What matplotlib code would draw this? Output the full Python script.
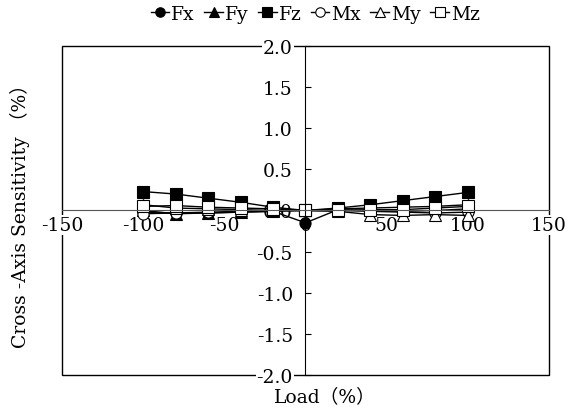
import matplotlib
matplotlib.use("Agg")
import matplotlib.pyplot as plt

plt.rcParams['font.family'] = ['DejaVu Serif', 'Noto Sans CJK JP']

load = [-100, -80, -60, -40, -20, 0, 20, 40, 60, 80, 100]
Fx = [-0.02, -0.03, -0.03, -0.02, -0.01, -0.15, 0.01, 0.0, -0.01, 0.0, 0.02]
Fy = [0.0, -0.04, -0.03, -0.02, -0.01, 0.0, 0.02, 0.03, 0.04, 0.05, 0.07]
Fz = [0.23, 0.20, 0.15, 0.10, 0.04, 0.0, 0.03, 0.07, 0.12, 0.17, 0.22]
Mx = [-0.04, -0.03, -0.02, -0.01, 0.0, 0.0, 0.0, -0.01, -0.02, -0.03, -0.02]
My = [0.07, 0.03, 0.02, 0.01, 0.0, 0.0, -0.01, -0.05, -0.06, -0.05, -0.06]
Mz = [0.05, 0.06, 0.04, 0.03, 0.02, 0.0, 0.0, 0.01, 0.01, 0.03, 0.05]

series = [("Fx", Fx, "o", "black"), ("Fy", Fy, "^", "black"), ("Fz", Fz, "s", "black"),
          ("Mx", Mx, "o", "white"), ("My", My, "^", "white"), ("Mz", Mz, "s", "white")]

xticks = [-150, -100, -50, 0, 50, 100, 150]
yticks = [-2.0, -1.5, -1.0, -0.5, 0.0, 0.5, 1.0, 1.5, 2.0]

fig = plt.figure(figsize=(5.75, 4.14), dpi=100)
ax = fig.add_axes([0.1078, 0.0918, 0.847, 0.7947])

for name, vals, m, fc in series:
    ax.plot(load, vals, marker=m, color="black", markerfacecolor=fc,
            markeredgecolor="black", markersize=8, linewidth=1.0, label=name,
            markeredgewidth=0.8)

ax.set_xlim(-150, 150)
ax.set_ylim(-2.0, 2.0)
ax.spines['left'].set_position(('data', 0))
ax.spines['bottom'].set_position(('data', 0))
ax.spines['bottom'].set_color('#555555')
for s in ['top', 'right']:
    ax.spines[s].set_visible(False)
# outer frame
ax.add_patch(plt.Rectangle((0, 0), 1, 1, transform=ax.transAxes, fill=False,
                           edgecolor='black', linewidth=1.0, zorder=0.5,
                           clip_on=False))

fs = 13.5
ax.set_xticks(xticks)
ax.set_xticklabels([f"{v:d}" for v in xticks])
ax.set_yticks(yticks)
ax.set_yticklabels([f"{v:.1f}" for v in yticks])
ax.tick_params(axis='y', direction='in', length=4, labelsize=fs, pad=9)
ax.tick_params(axis='x', direction='in', length=0, labelsize=fs, pad=4)
for lbl in ax.get_xticklabels() + ax.get_yticklabels():
    lbl.set_bbox(dict(facecolor='white', edgecolor='none', pad=0.5))

fig.text(0.035, 0.49, "Cross -Axis Sensitivity （%）", rotation=90,
         ha='center', va='center', fontsize=fs)
fig.text(0.565, 0.04, "Load（%）", ha='center', va='center', fontsize=fs)

leg = ax.legend(loc='lower center', bbox_to_anchor=(0.52, 1.03), ncol=6,
                frameon=False, fontsize=fs, handlelength=1.0, handletextpad=0.1,
                columnspacing=0.5, markerscale=0.85, borderpad=0.2)

fig.savefig("out.png", dpi=100)
